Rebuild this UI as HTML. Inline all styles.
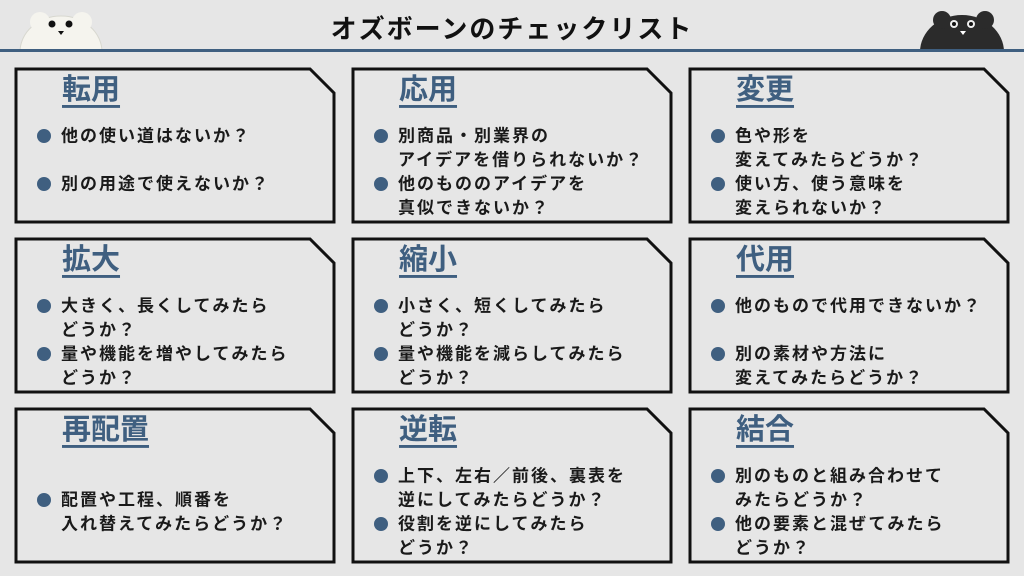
<!DOCTYPE html>
<html><head><meta charset="utf-8"><style>
html,body{margin:0;padding:0;background:#e6e6e6;}
svg{display:block;font-family:"Liberation Sans","Noto Sans CJK JP",sans-serif;}
.t{font-size:29px;font-weight:bold;fill:#3f5f80;text-decoration:underline;}
.l{font-size:17px;font-weight:bold;fill:#1a1a1a;letter-spacing:2px;}
.b{fill:#3f5f80;}
.c{fill:#e6e6e6;stroke:#111;stroke-width:3;}
</style></head><body>
<svg width="1024" height="576" viewBox="0 0 1024 576">
<rect width="1024" height="576" fill="#e6e6e6"/>
<g>
<ellipse cx="61" cy="52" rx="41" ry="36" fill="#f5f4ee" stroke="#d8d8d0"/>
<circle cx="40" cy="22" r="10" fill="#f5f4ee"/><circle cx="82" cy="22" r="10" fill="#f5f4ee"/>
<circle cx="52" cy="24" r="3.5" fill="#111"/><circle cx="69" cy="24" r="3.5" fill="#111"/>
<path d="M58 31 L64 31 L61 35 Z" fill="#111"/>
</g>
<g>
<ellipse cx="962" cy="52" rx="42" ry="37" fill="#2b2b2b"/>
<circle cx="942" cy="20" r="9" fill="#2b2b2b"/><circle cx="985" cy="20" r="9" fill="#2b2b2b"/>
<circle cx="954" cy="24" r="4" fill="#eee"/><circle cx="971" cy="24" r="4" fill="#eee"/>
<circle cx="954" cy="24" r="2" fill="#111"/><circle cx="971" cy="24" r="2" fill="#111"/>
<path d="M960 31 L966 31 L963 35 Z" fill="#fff"/>
</g>
<rect x="0" y="49" width="1024" height="3" fill="#3f5f80"/>
<rect x="0" y="52" width="1024" height="40" fill="#e6e6e6"/>
<text x="512" y="38" text-anchor="middle" font-size="26" font-weight="bold" fill="#111" letter-spacing="2">オズボーンのチェックリスト</text>

<g>
<path class="c" d="M16 69 H310 L334 93 V222 H16 Z"/>
<path class="c" d="M353 69 H647 L671 93 V222 H353 Z"/>
<path class="c" d="M690 69 H984 L1008 93 V222 H690 Z"/>
<path class="c" d="M16 239 H310 L334 263 V392 H16 Z"/>
<path class="c" d="M353 239 H647 L671 263 V392 H353 Z"/>
<path class="c" d="M690 239 H984 L1008 263 V392 H690 Z"/>
<path class="c" d="M16 409 H310 L334 433 V562 H16 Z"/>
<path class="c" d="M353 409 H647 L671 433 V562 H353 Z"/>
<path class="c" d="M690 409 H984 L1008 433 V562 H690 Z"/>
</g>

<g dominant-baseline="central">
<text class="t" x="62" y="90">転用</text>
<text class="t" x="399" y="90">応用</text>
<text class="t" x="736" y="90">変更</text>
<text class="t" x="62" y="260">拡大</text>
<text class="t" x="399" y="260">縮小</text>
<text class="t" x="736" y="260">代用</text>
<text class="t" x="62" y="430">再配置</text>
<text class="t" x="399" y="430">逆転</text>
<text class="t" x="736" y="430">結合</text>

<circle class="b" cx="44" cy="136" r="7"/><text class="l" x="61" y="136">他の使い道はないか？</text>
<circle class="b" cx="44" cy="184" r="7"/><text class="l" x="61" y="184">別の用途で使えないか？</text>

<circle class="b" cx="381" cy="136" r="7"/><text class="l" x="398" y="136">別商品・別業界の</text>
<text class="l" x="398" y="160">アイデアを借りられないか？</text>
<circle class="b" cx="381" cy="184" r="7"/><text class="l" x="398" y="184">他のもののアイデアを</text>
<text class="l" x="398" y="208">真似できないか？</text>

<circle class="b" cx="718" cy="136" r="7"/><text class="l" x="735" y="136">色や形を</text>
<text class="l" x="735" y="160">変えてみたらどうか？</text>
<circle class="b" cx="718" cy="184" r="7"/><text class="l" x="735" y="184">使い方、使う意味を</text>
<text class="l" x="735" y="208">変えられないか？</text>

<circle class="b" cx="44" cy="306" r="7"/><text class="l" x="61" y="306">大きく、長くしてみたら</text>
<text class="l" x="61" y="330">どうか？</text>
<circle class="b" cx="44" cy="354" r="7"/><text class="l" x="61" y="354">量や機能を増やしてみたら</text>
<text class="l" x="61" y="378">どうか？</text>

<circle class="b" cx="381" cy="306" r="7"/><text class="l" x="398" y="306">小さく、短くしてみたら</text>
<text class="l" x="398" y="330">どうか？</text>
<circle class="b" cx="381" cy="354" r="7"/><text class="l" x="398" y="354">量や機能を減らしてみたら</text>
<text class="l" x="398" y="378">どうか？</text>

<circle class="b" cx="718" cy="306" r="7"/><text class="l" x="735" y="306">他のもので代用できないか？</text>
<circle class="b" cx="718" cy="354" r="7"/><text class="l" x="735" y="354">別の素材や方法に</text>
<text class="l" x="735" y="378">変えてみたらどうか？</text>

<circle class="b" cx="44" cy="500" r="7"/><text class="l" x="61" y="500">配置や工程、順番を</text>
<text class="l" x="61" y="524">入れ替えてみたらどうか？</text>

<circle class="b" cx="381" cy="476" r="7"/><text class="l" x="398" y="476">上下、左右／前後、裏表を</text>
<text class="l" x="398" y="500">逆にしてみたらどうか？</text>
<circle class="b" cx="381" cy="524" r="7"/><text class="l" x="398" y="524">役割を逆にしてみたら</text>
<text class="l" x="398" y="548">どうか？</text>

<circle class="b" cx="718" cy="476" r="7"/><text class="l" x="735" y="476">別のものと組み合わせて</text>
<text class="l" x="735" y="500">みたらどうか？</text>
<circle class="b" cx="718" cy="524" r="7"/><text class="l" x="735" y="524">他の要素と混ぜてみたら</text>
<text class="l" x="735" y="548">どうか？</text>
</g>
</svg>
</body></html>
